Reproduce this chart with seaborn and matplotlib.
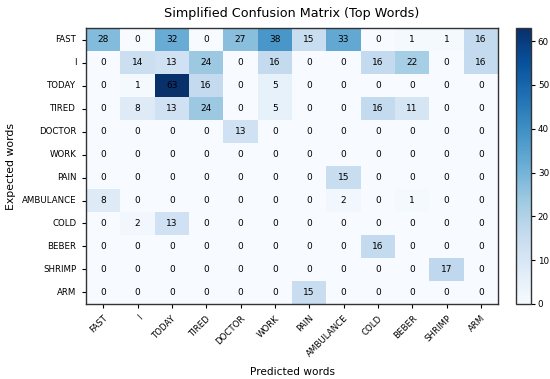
import numpy as np
import pandas as pd
import seaborn as sns
import matplotlib
matplotlib.use("Agg")
import matplotlib.pyplot as plt

labels = ["FAST", "I", "TODAY", "TIRED", "DOCTOR", "WORK", "PAIN",
          "AMBULANCE", "COLD", "BEBER", "SHRIMP", "ARM"]

row_fast      = [28, 0, 32, 0, 27, 38, 15, 33, 0, 1, 1, 16]
row_i         = [0, 14, 13, 24, 0, 16, 0, 0, 16, 22, 0, 16]
row_today     = [0, 1, 63, 16, 0, 5, 0, 0, 0, 0, 0, 0]
row_tired     = [0, 8, 13, 24, 0, 5, 0, 0, 16, 11, 0, 0]
row_doctor    = [0, 0, 0, 0, 13, 0, 0, 0, 0, 0, 0, 0]
row_work      = [0, 0, 0, 0, 0, 0, 0, 0, 0, 0, 0, 0]
row_pain      = [0, 0, 0, 0, 0, 0, 0, 15, 0, 0, 0, 0]
row_ambulance = [8, 0, 0, 0, 0, 0, 0, 2, 0, 1, 0, 0]
row_cold      = [0, 2, 13, 0, 0, 0, 0, 0, 0, 0, 0, 0]
row_beber     = [0, 0, 0, 0, 0, 0, 0, 0, 16, 0, 0, 0]
row_shrimp    = [0, 0, 0, 0, 0, 0, 0, 0, 0, 0, 17, 0]
row_arm       = [0, 0, 0, 0, 0, 0, 15, 0, 0, 0, 0, 0]

cbar_ticks = [0, 10, 20, 30, 40, 50, 60]

matrix = [row_fast, row_i, row_today, row_tired, row_doctor, row_work,
          row_pain, row_ambulance, row_cold, row_beber, row_shrimp, row_arm]
df = pd.DataFrame(matrix, index=labels, columns=labels)

fig = plt.figure(figsize=(5.5, 3.79), dpi=100)
ax = fig.add_axes([0.1564, 0.1979, 0.7491, 0.7282])
cax = fig.add_axes([0.938, 0.1979, 0.0273, 0.7282])

sns.heatmap(df, ax=ax, cbar_ax=cax, cmap="Blues", annot=True, fmt="d",
            annot_kws={"fontsize": 6.5, "color": "black"}, vmin=0, vmax=63)

for sp in ax.spines.values():
    sp.set_visible(True)
    sp.set_linewidth(1.0)
    sp.set_color("#333333")
cbar = ax.collections[0].colorbar
cbar.outline.set_visible(True)
cbar.outline.set_linewidth(1.0)
cbar.outline.set_edgecolor("#333333")
cbar.set_ticks(cbar_ticks)
cax.tick_params(axis="y", which="major", length=3, pad=2, labelsize=6.3)
for t in cax.get_yticklabels():
    t.set_fontsize(6.3)

ax.set_xticklabels(labels, rotation=45, ha="right", rotation_mode="anchor", fontsize=6.2)
ax.set_yticklabels(labels, rotation=0, fontsize=6.2)
ax.tick_params(axis="both", length=3, pad=4)
ax.set_xlabel("Predicted words", fontsize=7.6, labelpad=6)
ax.set_ylabel("Expected words", fontsize=7.8)
ax.set_title("Simplified Confusion Matrix (Top Words)", fontsize=9.2, pad=8)

fig.savefig("out.png", dpi=100)
